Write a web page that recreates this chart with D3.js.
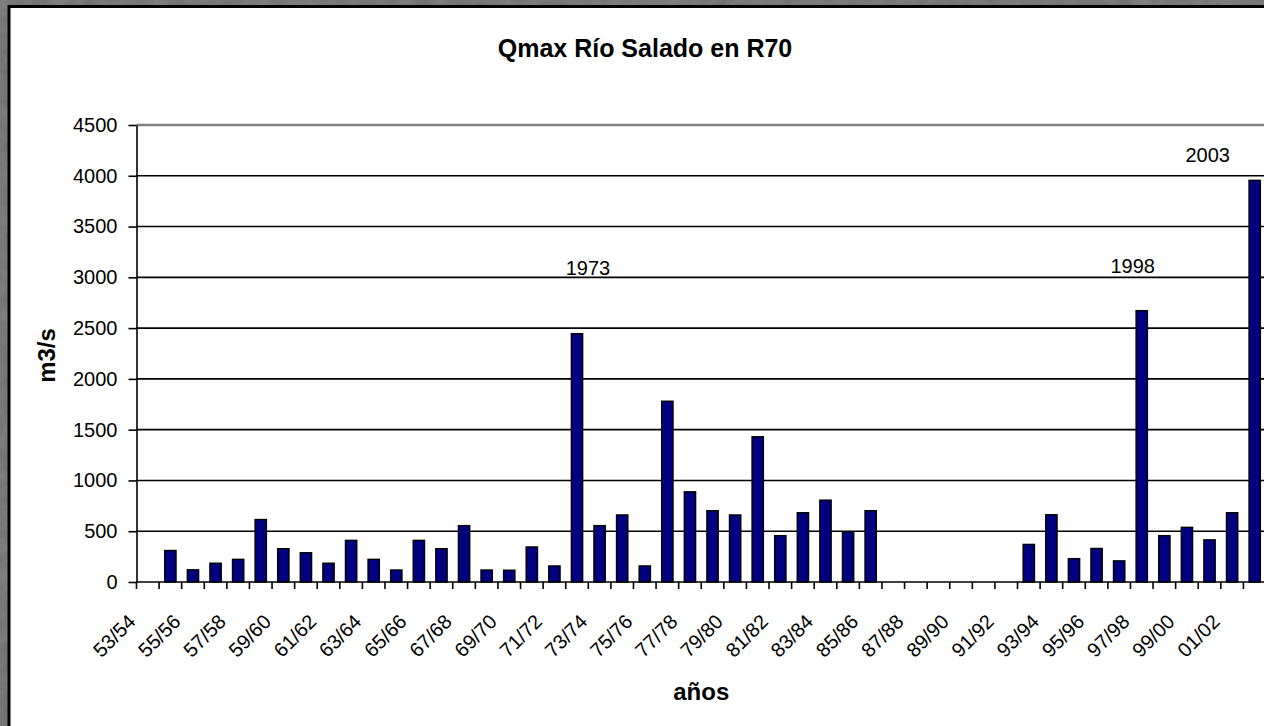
<!DOCTYPE html>
<html>
<head>
<meta charset="utf-8">
<script src="https://cdn.jsdelivr.net/npm/d3@7"></script>
<style>
  html, body { margin: 0; padding: 0; background: #707070; overflow: hidden; width: 1264px; height: 726px; }
  svg { display: block; position: absolute; left: 0; top: 0; }
  text { font-family: "Liberation Sans", Arial, Helvetica, sans-serif; fill: #000; }
</style>
</head>
<body>
<svg id="chart" width="1264" height="726"></svg>
<script>
// ---- data ----
const categories = [
  "53/54","54/55","55/56","56/57","57/58","58/59","59/60","60/61","61/62","62/63",
  "63/64","64/65","65/66","66/67","67/68","68/69","69/70","70/71","71/72","72/73",
  "73/74","74/75","75/76","76/77","77/78","78/79","79/80","80/81","81/82","82/83",
  "83/84","84/85","85/86","86/87","87/88","88/89","89/90","90/91","91/92","92/93",
  "93/94","94/95","95/96","96/97","97/98","98/99","99/00","00/01","01/02","02/03"
];
const qmax = [
  null, 310, 120, 185, 223, 615, 328, 288, 185, 410,
  223, 118, 410, 328, 555, 118, 116, 345, 158, 2445,
  555, 660, 158, 1780, 888, 702, 660, 1430, 456, 682,
  806, 495, 702, null, null, null, null, null, null, 370,
  662, 230, 330, 208, 2672, 456, 538, 415, 682, 3955
];
const yTicks = [0, 500, 1000, 1500, 2000, 2500, 3000, 3500, 4000, 4500];
const xLabels = categories.filter((c, i) => i % 2 === 0);
const annotationCats = ["72/73", "97/98", "02/03"];
const annotationTexts = ["1973", "1998", "2003"];
const annotationLevels = [3020, 3040, 4140];
const chartTitle = "Qmax Río Salado en R70";
const yTitle = "m3/s";
const xTitle = "años";

// ---- layout ----
const W = 1264, H = 726;
const plot = { left: 136.5, right: 1266, top: 125, bottom: 582 };
const font = '"Liberation Sans", Arial, Helvetica, sans-serif';

const svg = d3.select("#chart");

// textured grey background
const defs = svg.append("defs");
const f = defs.append("filter").attr("id", "granite").attr("x", 0).attr("y", 0).attr("width", "100%").attr("height", "100%");
f.append("feTurbulence").attr("type", "fractalNoise").attr("baseFrequency", 0.06).attr("numOctaves", 3).attr("seed", 4).attr("result", "n");
f.append("feColorMatrix").attr("in", "n").attr("type", "matrix")
  .attr("values", "0 0 0 0 0.5  0 0 0 0 0.5  0 0 0 0 0.5  0.9 0 0 0 -0.15").attr("result", "c");
svg.append("rect").attr("width", W).attr("height", H).attr("fill", "#707070");
svg.append("rect").attr("width", W).attr("height", H).attr("fill", "#8c8c8c").attr("opacity", 0.4).attr("filter", "url(#granite)");

// chart area
svg.append("rect")
  .attr("x", 9).attr("y", 6.5)
  .attr("width", W + 40).attr("height", H + 40)
  .attr("fill", "#fff").attr("stroke", "#000").attr("stroke-width", 3);

const x = d3.scaleBand().domain(categories).range([plot.left, plot.right]).paddingInner(0).paddingOuter(0);
const y = d3.scaleLinear().domain([0, 4500]).range([plot.bottom, plot.top]);

// gridlines
svg.append("g").selectAll("line").data(yTicks.filter(v => v > 0))
  .join("line")
  .attr("x1", plot.left).attr("x2", plot.right)
  .attr("y1", d => y(d)).attr("y2", d => y(d))
  .attr("stroke", d => d === 4500 ? "#808080" : "#000")
  .attr("stroke-width", d => d === 4500 ? 2.5 : 1.6);

// bars
const bw = x.bandwidth() * 0.5;
svg.append("g").selectAll("rect").data(categories.map((c, i) => ({ c, v: qmax[i] })).filter(d => d.v != null))
  .join("rect")
  .attr("x", d => x(d.c) + (x.bandwidth() - bw) / 2)
  .attr("width", bw)
  .attr("y", d => y(d.v))
  .attr("height", d => y(0) - y(d.v))
  .attr("fill", "#000080")
  .attr("stroke", "#000")
  .attr("stroke-width", 1.4);

// y axis
const yAxis = svg.append("g")
  .attr("transform", `translate(${plot.left},0)`)
  .call(d3.axisLeft(y).tickValues(yTicks).tickFormat(d3.format("d")).tickSize(8).tickPadding(11).tickSizeOuter(0));
yAxis.select(".domain").attr("stroke", "#000").attr("stroke-width", 1.6);
yAxis.selectAll(".tick line").attr("stroke", "#000").attr("stroke-width", 1.6);
yAxis.selectAll(".tick text").attr("font-size", 20).attr("font-family", font).attr("fill", "#000");

// x axis (baseline + boundary ticks)
svg.append("line")
  .attr("x1", plot.left).attr("x2", plot.right)
  .attr("y1", y(0)).attr("y2", y(0))
  .attr("stroke", "#000").attr("stroke-width", 1.6);
svg.append("g").selectAll("line").data(categories)
  .join("line")
  .attr("x1", d => x(d)).attr("x2", d => x(d))
  .attr("y1", y(0)).attr("y2", y(0) + 7)
  .attr("stroke", "#000").attr("stroke-width", 1.6);

const xAxis = svg.append("g")
  .attr("transform", `translate(0,${plot.bottom})`)
  .call(d3.axisBottom(x).tickValues(xLabels).tickSize(0).tickPadding(0));
xAxis.select(".domain").remove();
xAxis.selectAll(".tick text")
  .attr("font-size", 20).attr("font-family", font).attr("fill", "#000")
  .attr("text-anchor", "end").attr("y", 0).attr("dy", 0)
  .attr("transform", "translate(-11,41) rotate(-45)");

// annotations
const annDx = [11, -9, -47];
svg.append("g").selectAll("text").data(annotationCats.map((c, i) => ({ c, t: annotationTexts[i], v: annotationLevels[i], dx: annDx[i] })))
  .join("text")
  .attr("x", d => x(d.c) + x.bandwidth() / 2 + d.dx)
  .attr("y", d => y(d.v))
  .attr("text-anchor", "middle")
  .attr("font-size", 20)
  .text(d => d.t);

// titles
svg.append("text")
  .attr("x", 645).attr("y", 57)
  .attr("text-anchor", "middle")
  .attr("font-size", 25).attr("font-weight", "bold")
  .text(chartTitle);

svg.append("text")
  .attr("transform", `translate(55,${(plot.top + plot.bottom) / 2 + 2}) rotate(-90)`)
  .attr("text-anchor", "middle")
  .attr("font-size", 24).attr("font-weight", "bold")
  .text(yTitle);

svg.append("text")
  .attr("x", (plot.left + plot.right) / 2).attr("y", 700)
  .attr("text-anchor", "middle")
  .attr("font-size", 24).attr("font-weight", "bold")
  .text(xTitle);
</script>
</body>
</html>
